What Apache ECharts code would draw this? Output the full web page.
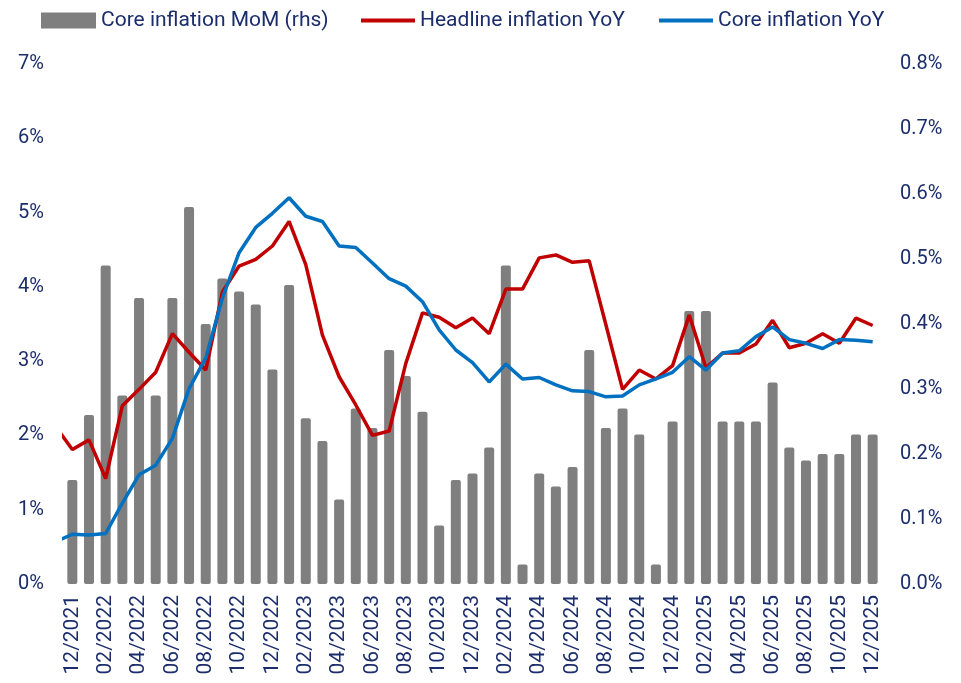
<!DOCTYPE html>
<html>
<head>
<meta charset="utf-8">
<script src="https://cdn.jsdelivr.net/npm/echarts@6/dist/echarts.min.js"></script>
<style>html,body{margin:0;padding:0;background:#fff}#c{width:961px;height:683px}</style>
</head>
<body>
<div id="c"></div>
<script>
// Categories (bars): 12/2021 .. 12/2025
var months = ['12/2021','01/2022','02/2022','03/2022','04/2022','05/2022','06/2022','07/2022','08/2022','09/2022','10/2022','11/2022','12/2022',
  '01/2023','02/2023','03/2023','04/2023','05/2023','06/2023','07/2023','08/2023','09/2023','10/2023','11/2023','12/2023',
  '01/2024','02/2024','03/2024','04/2024','05/2024','06/2024','07/2024','08/2024','09/2024','10/2024','11/2024','12/2024',
  '01/2025','02/2025','03/2025','04/2025','05/2025','06/2025','07/2025','08/2025','09/2025','10/2025','11/2025','12/2025'];
// Core inflation MoM (rhs), %
var coreMoM = [0.16,0.26,0.49,0.29,0.44,0.29,0.44,0.58,0.40,0.47,
  0.45,0.43,0.33,0.46,0.255,0.22,0.13,0.27,0.24,0.36,
  0.32,0.265,0.09,0.16,0.17,0.21,0.49,0.03,0.17,0.15,
  0.18,0.36,0.24,0.27,0.23,0.03,0.25,0.42,0.42,0.25,
  0.25,0.25,0.31,0.21,0.19,0.20,0.20,0.23,0.23];
// Line series start one month earlier (11/2021, clipped at the left edge)
var lineStartOffset = -1;
var headlineYoY = [2.12,
  1.81,1.94,1.42,2.40,2.62,2.85,3.37,3.12,2.88,3.93,
  4.28,4.37,4.55,4.88,4.30,3.35,2.79,2.41,2.00,2.06,
  2.97,3.65,3.59,3.45,3.58,3.37,3.97,3.97,4.39,4.43,
  4.33,4.35,3.49,2.62,2.88,2.76,2.94,3.62,2.91,3.11,
  3.11,3.23,3.55,3.18,3.24,3.37,3.24,3.58,3.48];
var coreYoY = [0.57,
  0.67,0.66,0.68,1.09,1.47,1.60,1.96,2.63,3.04,3.85,
  4.46,4.80,4.99,5.20,4.95,4.88,4.55,4.53,4.32,4.11,
  4.01,3.80,3.42,3.15,2.98,2.72,2.96,2.76,2.78,2.68,
  2.60,2.59,2.52,2.53,2.68,2.76,2.85,3.06,2.88,3.11,
  3.14,3.33,3.46,3.29,3.24,3.17,3.29,3.28,3.26];

var navy = '#1b2d6b';
var font = 'Roboto';
function pairs(arr){ return arr.map(function(v,i){ return [i + lineStartOffset, v]; }); }

var chart = echarts.init(document.getElementById('c'));
chart.setOption({
  animation: false,
  textStyle: { fontFamily: font },
  grid: { left: 64, right: 80, top: 64, bottom: 99, containLabel: false },
  legend: [
    { left: 36, top: 5, itemWidth: 55, itemHeight: 16, icon: 'rect', data: ['Core inflation MoM (rhs)'],
      textStyle: { color: navy, fontSize: 21, fontFamily: font } },
    { left: 356, top: 5, itemWidth: 54, itemHeight: 4, icon: 'rect', data: ['Headline inflation YoY'],
      textStyle: { color: navy, fontSize: 21, fontFamily: font } },
    { left: 654, top: 5, itemWidth: 54, itemHeight: 4, icon: 'rect', data: ['Core inflation YoY'],
      textStyle: { color: navy, fontSize: 21, fontFamily: font } }
  ],
  xAxis: [
    { type: 'category', data: months, boundaryGap: true,
      axisLine: { show: false }, axisTick: { show: false },
      axisLabel: { interval: 1, rotate: 90, margin: 11, color: navy, fontSize: 21, fontFamily: font } },
    { type: 'value', min: -0.5, max: 48.5, show: false }
  ],
  yAxis: [
    { type: 'value', min: 0, max: 7, interval: 1, position: 'left',
      splitLine: { show: false }, axisLine: { show: false }, axisTick: { show: false },
      axisLabel: { formatter: '{value}%', color: navy, fontSize: 20, margin: 20, fontFamily: font } },
    { type: 'value', min: 0, max: 0.8, interval: 0.1, position: 'right',
      splitLine: { show: false }, axisLine: { show: false }, axisTick: { show: false },
      axisLabel: { formatter: function(v){ return v.toFixed(1) + '%'; }, color: navy, fontSize: 20, margin: 19, fontFamily: font } }
  ],
  series: [
    { name: 'Core inflation MoM (rhs)', type: 'bar', xAxisIndex: 0, yAxisIndex: 1, data: coreMoM,
      barWidth: 10, itemStyle: { color: '#7f7f7f', borderRadius: 2 } },
    { name: 'Headline inflation YoY', type: 'line', xAxisIndex: 1, yAxisIndex: 0, data: pairs(headlineYoY),
      showSymbol: false, symbol: 'none', clip: true, lineStyle: { color: '#c00000', width: 3.5 }, itemStyle: { color: '#c00000' } },
    { name: 'Core inflation YoY', type: 'line', xAxisIndex: 1, yAxisIndex: 0, data: pairs(coreYoY),
      showSymbol: false, symbol: 'none', clip: true, lineStyle: { color: '#0070c0', width: 3.5 }, itemStyle: { color: '#0070c0' } }
  ]
});
</script>
</body>
</html>
